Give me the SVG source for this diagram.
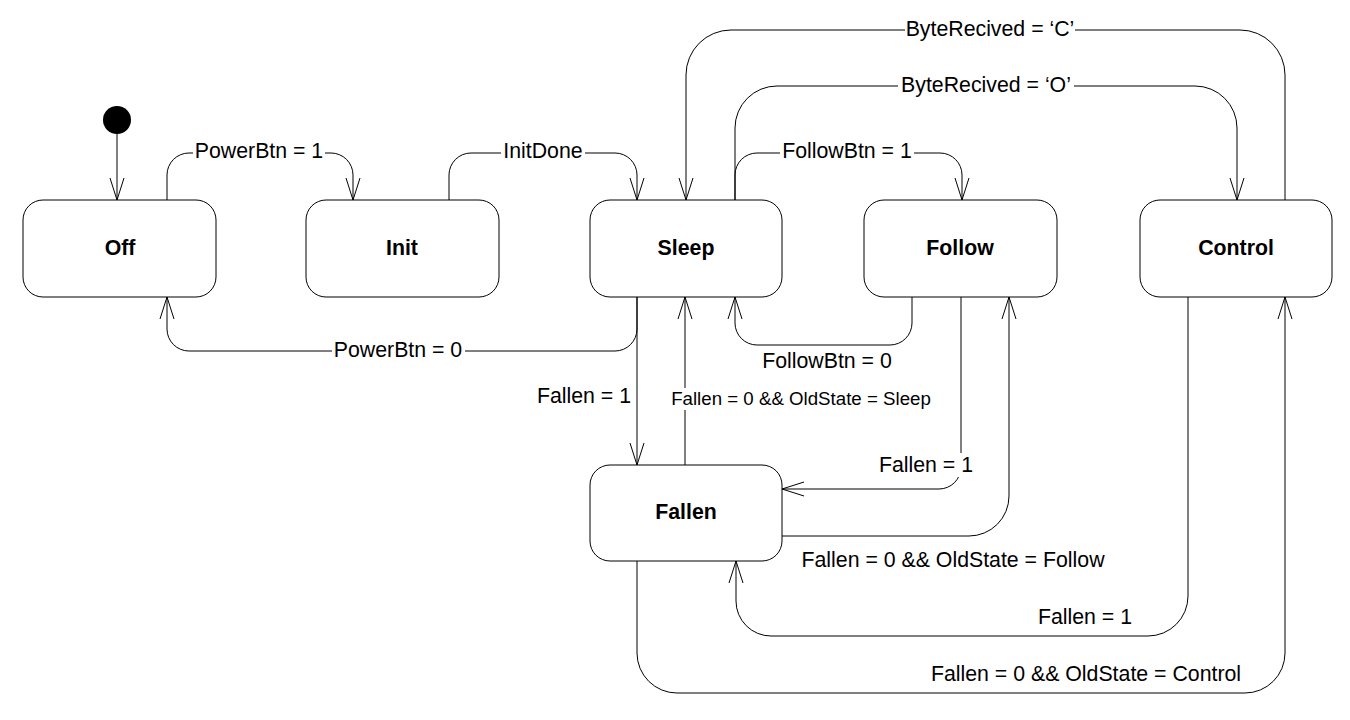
<svg xmlns="http://www.w3.org/2000/svg" width="1350" height="720" viewBox="0 0 1350 720">
<style>
.node rect{fill:#fff;stroke:#000;stroke-width:1}
.node text{font-family:"Liberation Sans",Arial,sans-serif;font-size:21.3px;font-weight:bold;text-anchor:middle;fill:#000}
.edge{fill:none;stroke:#000;stroke-width:1;marker-end:url(#arr)}
.lbl{font-family:"Liberation Sans",Arial,sans-serif;font-size:21.3px;text-anchor:middle;fill:#000}
.sm{font-size:18.7px}
.bg{fill:#fff;stroke:none}
</style>
<defs>
<marker id="arr" markerUnits="userSpaceOnUse" markerWidth="30" markerHeight="20" viewBox="-25 -10 30 20" refX="0" refY="0" orient="auto" overflow="visible">
<path d="M-22,-7 L0,0 L-22,7" fill="none" stroke="#000" stroke-width="1"/>
</marker>
</defs>
<rect width="1350" height="720" fill="#fff"/>
<g id="connectors">
<path class="edge" d="M117,134 V200"/>
<path class="edge" d="M167,200 V175 A22,22 0 0 1 189,153 H331 A22,22 0 0 1 353,175 V200"/>
<path class="edge" d="M449,200 V175 A22,22 0 0 1 471,153 H615 A22,22 0 0 1 637,175 V200"/>
<path class="edge" d="M735,200 V175 A22,22 0 0 1 757,153 H940 A22,22 0 0 1 962,175 V200"/>
<path class="edge" d="M735,200 V128 A42,42 0 0 1 777,86 H1195 A42,42 0 0 1 1237,128 V200"/>
<path class="edge" d="M1285,200 V75 A45,45 0 0 0 1240,30 H731 A45,45 0 0 0 686,75 V200"/>
<path class="edge" d="M637,297 V329 A22,22 0 0 1 615,351 H189 A22,22 0 0 1 167,329 V297"/>
<path class="edge" d="M912,297 V323 A22,22 0 0 1 890,345 H757 A22,22 0 0 1 735,323 V297"/>
<path class="edge" d="M637,297 V465"/>
<path class="edge" d="M685,465 V297"/>
<path class="edge" d="M961,297 V467 A22,22 0 0 1 939,489 H782"/>
<path class="edge" d="M782,536 H969 A40,40 0 0 0 1009,496 V297"/>
<path class="edge" d="M1188,297 V596 A40,40 0 0 1 1148,636 H771 A35,35 0 0 1 736,601 V561"/>
<path class="edge" d="M637,561 V653 A40,40 0 0 0 677,693 H1245 A40,40 0 0 0 1285,653 V297"/>
<g id="labels">
<rect class="bg" x="193" y="141" width="132" height="24"/>
<text class="lbl" x="259" y="158">PowerBtn = 1</text>
<rect class="bg" x="501" y="141" width="84" height="24"/>
<text class="lbl" x="543" y="158">InitDone</text>
<rect class="bg" x="780" y="141" width="134" height="24"/>
<text class="lbl" x="847" y="158">FollowBtn = 1</text>
<rect class="bg" x="905" y="18" width="170" height="24"/>
<text class="lbl" x="990" y="36">ByteRecived = ‘C’</text>
<rect class="bg" x="898" y="74" width="176" height="24"/>
<text class="lbl" x="986" y="92">ByteRecived = ‘O’</text>
<rect class="bg" x="332" y="339" width="133" height="24"/>
<text class="lbl" x="398" y="357">PowerBtn = 0</text>
<text class="lbl" x="827" y="368">FollowBtn = 0</text>
<text class="lbl" x="584" y="403">Fallen = 1</text>
<rect class="bg" x="669" y="388" width="264" height="22"/>
<text class="lbl sm" x="801" y="405">Fallen = 0 &amp;&amp; OldState = Sleep</text>
<rect class="bg" x="878" y="453" width="96" height="24"/>
<text class="lbl" x="926" y="472">Fallen = 1</text>
<text class="lbl" x="953" y="567">Fallen = 0 &amp;&amp; OldState = Follow</text>
<text class="lbl" x="1085" y="624">Fallen = 1</text>
<text class="lbl" x="1086" y="681">Fallen = 0 &amp;&amp; OldState = Control</text>
</g>
</g>
<g id="initial"><circle cx="117" cy="120" r="14" fill="#000"/></g>
<g id="off" class="node"><rect x="23" y="200" width="193" height="97" rx="20"/><text x="120" y="255">Off</text></g>
<g id="init" class="node"><rect x="306" y="200" width="193" height="97" rx="20"/><text x="402" y="255">Init</text></g>
<g id="sleep" class="node"><rect x="590" y="200" width="192" height="97" rx="20"/><text x="686" y="255">Sleep</text></g>
<g id="follow" class="node"><rect x="864" y="200" width="193" height="97" rx="20"/><text x="960" y="255">Follow</text></g>
<g id="control" class="node"><rect x="1140" y="200" width="192" height="97" rx="20"/><text x="1236" y="255">Control</text></g>
<g id="fallen" class="node"><rect x="590" y="465" width="192" height="96" rx="20"/><text x="686" y="519">Fallen</text></g>
</svg>
